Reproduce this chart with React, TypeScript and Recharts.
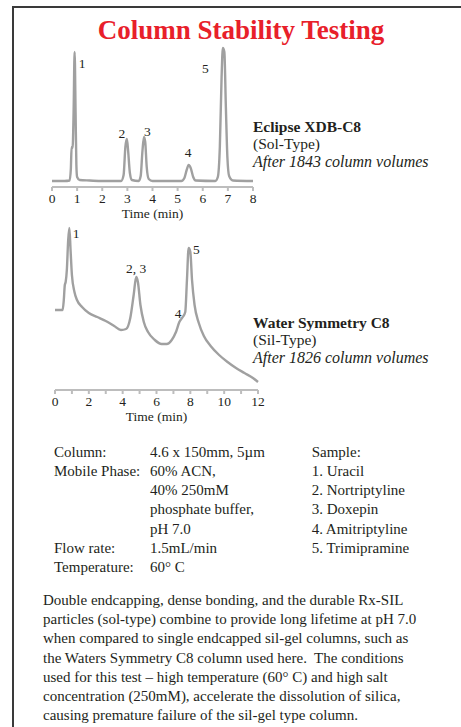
import { LineChart, Line, XAxis, YAxis, ReferenceDot } from 'recharts';

const SERIF = "'Liberation Serif', 'Times New Roman', serif";
const TEXT = '#231f20';
const TRACE = '#a0a0a0';
const AXIS = '#bdbdbd';

// Eclipse XDB-C8 chromatogram (time in min, detector signal)
const xdbTime = [0, 0.5, 0.7, 0.75, 0.78, 0.82, 0.86, 0.9, 0.94, 0.97, 1.0, 1.1, 1.5, 2.0, 2.75, 2.85, 2.92, 2.98, 3.03, 3.1, 3.18, 3.45, 3.53, 3.6, 3.66, 3.71, 3.77, 3.85, 4.0, 5.15, 5.27, 5.36, 5.44, 5.52, 5.62, 5.72, 6.5, 6.6, 6.68, 6.75, 6.8, 6.86, 6.92, 6.98, 7.05, 7.2, 8];
const xdbSignal = [6, 6, 6.5, 18, 40, 39, 75, 135, 72, 22, 10, 7, 6.5, 6, 6, 12, 40, 48, 36, 14, 7, 6, 11, 36, 50, 45, 20, 8, 6, 6, 9, 17, 22, 19, 10, 6.5, 6, 10, 40, 110, 139, 135, 80, 30, 11, 6.5, 6];

// Waters Symmetry C8 chromatogram
const symTime = [0, 0.45, 0.52, 0.58, 0.63, 0.7, 0.78, 0.85, 0.92, 1.0, 1.15, 1.3, 1.6, 2.0, 2.5, 3.0, 3.5, 3.9, 4.2, 4.45, 4.65, 4.8, 4.9, 5.05, 5.25, 5.5, 5.9, 6.3, 6.6, 6.9, 7.15, 7.35, 7.55, 7.7, 7.8, 7.9, 8.0, 8.1, 8.25, 8.5, 8.8, 9.2, 9.7, 10.2, 10.7, 11.2, 11.7, 12];
const symSignal = [80, 80, 90, 105, 108, 120, 150, 162, 140, 115, 98, 90, 83, 77, 73, 69, 64, 60, 61, 72, 95, 113, 108, 85, 68, 58, 50, 46, 46, 50, 58, 68, 73, 78, 110, 142, 138, 110, 85, 67, 54, 44, 35, 28, 22, 17, 12, 8];

const xdbTicks = [0, 1, 2, 3, 4, 5, 6, 7, 8];
const symTicks = [0, 1, 2, 3, 4, 5, 6, 7, 8, 9, 10, 11, 12];

const xdbPeakLabels = ['1', '2', '3', '4', '5'];
const xdbPeakTime = [1.2, 2.78, 3.8, 5.42, 6.1];
const xdbPeakSignal = [124, 54, 56, 35, 119];

const symPeakLabels = ['1', '2, 3', '4', '5'];
const symPeakTime = [1.25, 4.8, 7.28, 8.35];
const symPeakSignal = [157, 122, 77, 141];

const paramLabels = ['Column:', 'Mobile Phase:', '', '', '', 'Flow rate:', 'Temperature:'];
const paramValues = ['4.6 x 150mm, 5\u00b5m', '60% ACN,', '40% 250mM', 'phosphate buffer,', 'pH 7.0', '1.5mL/min', '60\u00b0 C'];
const sampleLines = ['Sample:', '1. Uracil', '2. Nortriptyline', '3. Doxepin', '4. Amitriptyline', '5. Trimipramine'];

const paragraph = [
  'Double endcapping, dense bonding, and the durable Rx-SIL',
  'particles (sol-type) combine to provide long lifetime at pH 7.0',
  'when compared to single endcapped sil-gel columns, such as',
  'the Waters Symmetry C8 column used here.  The conditions',
  'used for this test \u2013 high temperature (60\u00b0 C) and high salt',
  'concentration (250mM), accelerate the dissolution of silica,',
  'causing premature failure of the sil-gel type column.',
];

const xdbData = xdbTime.map((t, i) => ({ t, v: xdbSignal[i] }));
const symData = symTime.map((t, i) => ({ t, v: symSignal[i] }));

const tickStyle = { fill: TEXT, fontSize: 13.5, fontFamily: SERIF };
const axisLabel = { value: 'Time (min)', position: 'insideBottom' as const, offset: -1, fill: TEXT, fontSize: 13.5, fontFamily: SERIF };

const PeakLabel = (label: string, t: number, v: number) => (
  <ReferenceDot
    key={label}
    x={t}
    y={v}
    r={0}
    fill="none"
    stroke="none"
    label={{ value: label, position: 'center', fill: TEXT, fontSize: 13.5, fontFamily: SERIF }}
  />
);

export default function App() {
  return (
    <div style={{ position: 'absolute', left: 0, top: 0, width: 461, height: 727, background: '#fff', overflow: 'hidden', fontFamily: SERIF }}>
      {/* frame */}
      <div style={{ position: 'absolute', left: 12, top: 6, width: 460, height: 730, borderTop: '2px solid #3a3a3a', borderLeft: '2px solid #3a3a3a' }} />

      <div style={{ position: 'absolute', left: 0, top: 0 }}>
        <LineChart width={300} height={230} data={xdbData} margin={{ top: 44, left: 52, right: 47, bottom: 13 }}>
          <XAxis
            dataKey="t"
            type="number"
            domain={[0, 8]}
            ticks={xdbTicks}
            height={30}
            stroke={AXIS}
            strokeWidth={2}
            tickSize={4}
            tickMargin={2}
            tick={tickStyle}
            label={axisLabel}
          />
          <YAxis hide domain={[0, 143]} />
          <Line dataKey="v" type="monotone" stroke={TRACE} strokeWidth={2.4} dot={false} isAnimationActive={false} />
          {xdbPeakLabels.map((l, i) => PeakLabel(l, xdbPeakTime[i], xdbPeakSignal[i]))}
        </LineChart>
      </div>

      <div style={{ position: 'absolute', left: 0, top: 200 }}>
        <LineChart width={300} height={230} data={symData} margin={{ top: 20, left: 55, right: 42, bottom: 10 }}>
          <XAxis
            dataKey="t"
            type="number"
            domain={[0, 12]}
            ticks={symTicks}
            tickFormatter={(v: number) => (v % 2 === 0 ? String(v) : '')}
            height={30}
            stroke={AXIS}
            strokeWidth={2}
            tickSize={4}
            tickMargin={2}
            tick={tickStyle}
            label={axisLabel}
          />
          <YAxis hide domain={[0, 170]} />
          <Line dataKey="v" type="monotone" stroke={TRACE} strokeWidth={2.4} dot={false} isAnimationActive={false} />
          {symPeakLabels.map((l, i) => PeakLabel(l, symPeakTime[i], symPeakSignal[i]))}
        </LineChart>
      </div>

      <svg width={461} height={727} style={{ position: 'absolute', left: 0, top: 0, pointerEvents: 'none' }} fontFamily={SERIF} fill={TEXT}>
        <text x={241} y={38.5} textAnchor="middle" fontSize={27} fontWeight="bold" fill="#e8202a">Column Stability Testing</text>

        <text x={253} y={131.5} fontSize={15.5} fontWeight="bold">Eclipse XDB-C8</text>
        <text x={253} y={149} fontSize={15.5}>(Sol-Type)</text>
        <text x={253} y={166.5} fontSize={16} fontStyle="italic">After 1843 column volumes</text>

        <text x={253} y={327.5} fontSize={15.5} fontWeight="bold">Water Symmetry C8</text>
        <text x={253} y={345} fontSize={15.5}>(Sil-Type)</text>
        <text x={253} y={363} fontSize={16} fontStyle="italic">After 1826 column volumes</text>

        {paramLabels.map((s, i) => (
          <text key={'l' + i} x={54} y={456.7 + i * 19.2} fontSize={15}>{s}</text>
        ))}
        {paramValues.map((s, i) => (
          <text key={'v' + i} x={150} y={456.7 + i * 19.2} fontSize={15}>{s}</text>
        ))}
        {sampleLines.map((s, i) => (
          <text key={'s' + i} x={311.7} y={456.7 + i * 19.2} fontSize={15}>{s}</text>
        ))}

        {paragraph.map((s, i) => (
          <text key={'p' + i} x={43} y={605 + i * 19.2} fontSize={15} xmlSpace="preserve">{s}</text>
        ))}
      </svg>
    </div>
  );
}
